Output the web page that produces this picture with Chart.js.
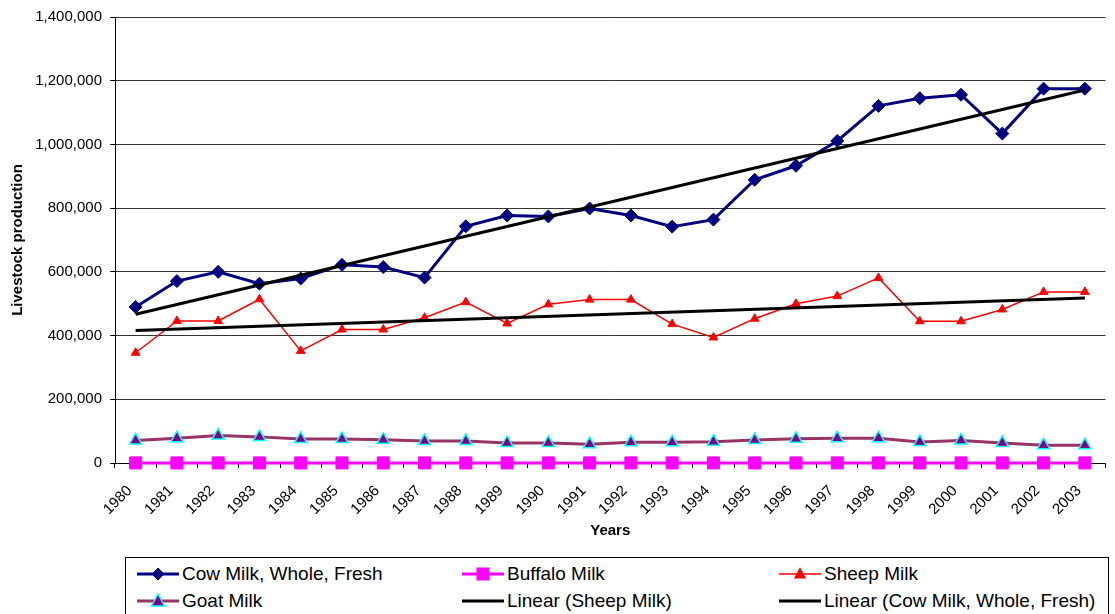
<!DOCTYPE html>
<html>
<head>
<meta charset="utf-8">
<script src="https://cdn.jsdelivr.net/npm/chart.js@4.4.1/dist/chart.umd.min.js"></script>
<style>
  html, body { margin: 0; padding: 0; background: #fff; }
  #wrap { position: relative; width: 1115px; height: 614px; overflow: hidden; font-family: "Liberation Sans", Arial, sans-serif; }
  #c { position: absolute; left: 0; top: 0; }
  #legend { position: absolute; left: 125px; top: 557px; width: 984px; height: 60px; border: 1px solid #000; box-sizing: border-box; background: #fff; }
  .item { position: absolute; height: 26px; display: flex; align-items: center; font-size: 19px; color: #000; white-space: nowrap; }
  .item svg { margin-right: 3px; }
</style>
</head>
<body>
<div id="wrap">
  <canvas id="c" width="1115" height="614"></canvas>
  <div id="legend"></div>
</div>
<script>
const years = ['1980','1981','1982','1983','1984','1985','1986','1987','1988','1989','1990','1991','1992','1993','1994','1995','1996','1997','1998','1999','2000','2001','2002','2003'];
const cowMilk = [490000, 571000, 600000, 563000, 579000, 622000, 615000, 582000, 743000, 777000, 774000, 799000, 777000, 742000, 764000, 889000, 933000, 1011000, 1121000, 1145000, 1156000, 1034000, 1175000, 1175000];
const buffaloMilk = [300, 300, 300, 300, 300, 300, 300, 300, 300, 300, 300, 300, 300, 300, 300, 300, 300, 300, 300, 300, 300, 300, 300, 300];
const sheepMilk = [346000, 446000, 446000, 514000, 352000, 419000, 419000, 456000, 505000, 438000, 498000, 513000, 513000, 436000, 394000, 453000, 500000, 524000, 581000, 445000, 445000, 482000, 537000, 537000];
const goatMilk = [71000, 78000, 86000, 82000, 75000, 75000, 73000, 69000, 69000, 63000, 63000, 59000, 65000, 65000, 67000, 72000, 76000, 78000, 78000, 66000, 71000, 63000, 56000, 56000];
// trend line end points (1980 and 2003)
const sheepTrendEnds = [416000, 518000];
const cowTrendEnds = [467000, 1171000];
const yTicks = [0, 200000, 400000, 600000, 800000, 1000000, 1200000, 1400000];
const seriesNames = ['Cow Milk, Whole, Fresh', 'Buffalo Milk', 'Sheep Milk', 'Goat Milk', 'Linear (Sheep Milk)', 'Linear (Cow Milk, Whole, Fresh)'];

function endsToSeries(ends) {
  return years.map((y, i) => i === 0 ? ends[0] : (i === years.length - 1 ? ends[1] : null));
}

const FONT = '"Liberation Sans", Arial, sans-serif';

const datasets = [
  { label: seriesNames[4], data: endsToSeries(sheepTrendEnds), borderColor: '#000', borderWidth: 3, pointRadius: 0, spanGaps: true, order: 0 },
  { label: seriesNames[5], data: endsToSeries(cowTrendEnds), borderColor: '#000', borderWidth: 3, pointRadius: 0, spanGaps: true, order: 0 },
  { label: seriesNames[0], data: cowMilk, borderColor: '#000080', backgroundColor: '#000080', borderWidth: 3, pointStyle: 'rectRot', pointRadius: 6.5, pointBorderWidth: 1, pointBackgroundColor: '#000080', pointBorderColor: '#000080', order: 1 },
  { label: seriesNames[2], data: sheepMilk, borderColor: '#ff0000', borderWidth: 1.5, pointStyle: 'triangle', pointRadius: 5, pointBorderWidth: 1, pointBackgroundColor: '#ff0000', pointBorderColor: '#ff0000', order: 2 },
  { label: seriesNames[3], data: goatMilk, borderColor: '#993366', borderWidth: 3, pointStyle: 'triangle', pointRadius: 7, pointBorderWidth: 1.5, pointBackgroundColor: '#800080', pointBorderColor: '#00ffff', order: 3 },
  { label: seriesNames[1], data: buffaloMilk, borderColor: '#ff00ff', borderWidth: 3, pointStyle: 'rect', pointRadius: 8.5, pointBorderWidth: 1, pointBackgroundColor: '#ff00ff', pointBorderColor: '#ff00ff', order: 4, clip: false }
];

new Chart(document.getElementById('c'), {
  type: 'line',
  data: { labels: years, datasets: datasets },
  options: {
    responsive: false,
    animation: false,
    devicePixelRatio: 1,
    layout: { padding: { left: 0, right: 0, top: 7, bottom: 59 } },
    elements: { line: { tension: 0 } },
    plugins: { legend: { display: false }, tooltip: { enabled: false } },
    scales: {
      x: {
        offset: true,
        grid: { offset: true, drawOnChartArea: false, drawTicks: true, tickLength: 5, color: '#000', tickColor: '#000' },
        border: { display: true, color: '#000', width: 1 },
        ticks: { minRotation: 45, maxRotation: 45, autoSkip: false, color: '#000', font: { family: FONT, size: 15 }, padding: 14, labelOffset: -6 },
        title: { display: true, text: 'Years', color: '#000', font: { family: FONT, size: 15, weight: 'bold' }, padding: { top: 0, bottom: 15 } },
        afterFit: (s) => { s.height = 92; }
      },
      y: {
        min: 0, max: 1400000,
        afterBuildTicks: (s) => { s.ticks = yTicks.map(v => ({ value: v })); },
        grid: { color: '#333', lineWidth: 1, drawTicks: true, tickLength: 5, tickColor: '#000' },
        border: { display: true, color: '#000', width: 1 },
        ticks: { color: '#000', font: { family: FONT, size: 15 }, padding: 8, callback: (v) => Number(v).toLocaleString('en-US') },
        title: { display: true, text: 'Livestock production', color: '#000', font: { family: FONT, size: 15, weight: 'bold' }, padding: { top: 9, bottom: 0 } },
        afterFit: (s) => { s.width = 115; }
      }
    }
  }
});

// HTML legend
const legendItems = [
  { name: seriesNames[0], x: 11, y: 3, color: '#000080', lw: 3, marker: 'diamond', fill: '#000080', stroke: '#000080' },
  { name: seriesNames[1], x: 336, y: 3, color: '#ff00ff', lw: 3, marker: 'square', fill: '#ff00ff', stroke: '#ff00ff' },
  { name: seriesNames[2], x: 653, y: 3, color: '#ff0000', lw: 1.5, marker: 'tri', fill: '#ff0000', stroke: '#ff0000', size: 0.75 },
  { name: seriesNames[3], x: 11, y: 30, color: '#993366', lw: 3, marker: 'tri', fill: '#800080', stroke: '#00ffff' },
  { name: seriesNames[4], x: 336, y: 30, color: '#000', lw: 3, marker: null },
  { name: seriesNames[5], x: 653, y: 30, color: '#000', lw: 3, marker: null }
];
const lg = document.getElementById('legend');
legendItems.forEach(it => {
  const w = 42, h = 22, cx = 21, cy = 11;
  let m = '';
  if (it.marker === 'diamond') m = `<polygon points="${cx-6},${cy} ${cx},${cy-6} ${cx+6},${cy} ${cx},${cy+6}" fill="${it.fill}" stroke="${it.stroke}"/>`;
  if (it.marker === 'square') m = `<rect x="${cx-6}" y="${cy-6}" width="12" height="12" fill="${it.fill}" stroke="${it.stroke}"/>`;
  if (it.marker === 'tri') { const s = it.size || 1; m = `<polygon points="${cx},${cy-7*s} ${cx+6.5*s},${cy+5*s} ${cx-6.5*s},${cy+5*s}" fill="${it.fill}" stroke="${it.stroke}" stroke-width="1.5"/>`; }
  const div = document.createElement('div');
  div.className = 'item';
  div.style.left = it.x + 'px';
  div.style.top = it.y + 'px';
  div.innerHTML = `<svg width="${w}" height="${h}"><line x1="0" y1="${cy}" x2="${w}" y2="${cy}" stroke="${it.color}" stroke-width="${it.lw}"/>${m}</svg><span>${it.name}</span>`;
  lg.appendChild(div);
});
</script>
</body>
</html>
